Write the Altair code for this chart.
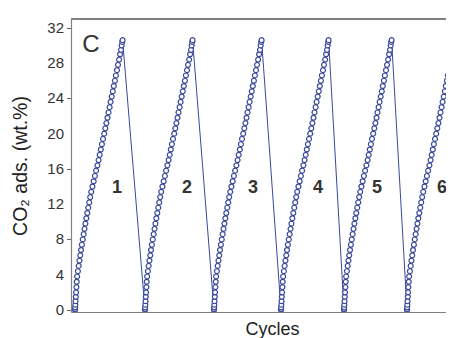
import altair as alt
import pandas as pd

# one adsorption run: time offset from cycle start (a.u.) and CO2 uptake (wt.%)
rise_dt = [0, 0.05, 0.16, 0.32, 0.54, 0.81, 1.08, 1.41, 1.73, 2.13, 2.9, 3.68, 4.45, 5.23,
           6.0, 6.88, 7.76, 8.65, 9.53, 10.41, 11.32, 12.29, 13.25, 14.22, 15.19, 16.2,
           17.44, 18.67, 19.9, 21.1, 22.4, 23.6, 24.7, 25.8, 26.9, 28.0, 29.2, 30.3, 31.4,
           32.5, 33.5, 34.6, 35.6, 36.7, 37.8, 38.8, 39.9, 40.9, 42.0, 43.0, 44.1, 45.1,
           46.0, 46.7, 47.2, 47.6]
rise_val = [0, 0.1, 0.3, 0.6, 1.0, 1.5, 2.0, 2.6, 3.2, 3.8, 4.4, 5.0, 5.6, 6.2, 6.8, 7.4,
            8.0, 8.6, 9.2, 9.8, 10.4, 11.0, 11.6, 12.2, 12.8, 13.4, 14.0, 14.6, 15.2, 15.8,
            16.4, 17.0, 17.6, 18.2, 18.8, 19.4, 20.0, 20.6, 21.2, 21.8, 22.4, 23.0, 23.6,
            24.2, 24.8, 25.4, 26.0, 26.6, 27.2, 27.8, 28.4, 29.0, 29.5, 30.0, 30.4, 30.6]
cycle_start = [4, 74, 143, 210, 273, 336]
cycle_names = ["1", "2", "3", "4", "5", "6"]
label_t = [46, 116, 182, 247, 306, 371]
label_val = [13.8, 13.8, 13.8, 13.8, 13.8, 13.8]
panel_letter = ["C"]
panel_t = [20]
panel_val = [30.1]
all_ticks = [0, 2, 4, 6, 8, 10, 12, 14, 16, 18, 20, 22, 24, 26, 28, 30, 32]
tick_labels = ["0", "4", "8", "12", "16", "20", "24", "28", "32"]

X_MIN, X_MAX = 0, 375
Y_MIN, Y_MAX = -0.23, 33.0

rows = []
k = 0
for c, s in enumerate(cycle_start):
    for dt, v in zip(rise_dt, rise_val):
        rows.append({"t": s + dt, "v": v, "cycle": cycle_names[c], "k": k})
        k += 1
df = pd.DataFrame(rows)
labels = pd.DataFrame({"t": label_t, "v": label_val, "txt": cycle_names})
panel = pd.DataFrame({"t": panel_t, "v": panel_val, "txt": panel_letter})
ylab = pd.DataFrame({"v": [float(s) for s in tick_labels], "txt": tick_labels})

BLUE = "#3a489c"
FONT = "Liberation Sans"

xs = alt.Scale(domain=[X_MIN, X_MAX], nice=False, zero=False)
ys = alt.Scale(domain=[Y_MIN, Y_MAX], nice=False, zero=False)

x_enc = alt.X("t:Q", scale=xs, axis=alt.Axis(
    title="Cycles", labels=False, ticks=False, grid=False,
    domainColor="#808080", domainWidth=1.2,
    titleFont=FONT, titleFontSize=18, titleFontWeight="normal", titleColor="#222",
    titleX=201, titleY=22, titleBaseline="alphabetic"))
y_enc = alt.Y("v:Q", scale=ys, axis=alt.Axis(
    title="CO₂ ads. (wt.%)", values=all_ticks, labels=False,
    tickSize={"condition": {"test": "datum.value % 4 === 0", "value": 4.5}, "value": 2.5},
    tickColor="#666", domainColor="#808080", domainWidth=1.2, grid=False,
    titleFont=FONT, titleFontSize=19.5, titleFontWeight="normal", titleColor="#222",
    titlePadding=36))

line = alt.Chart(df).mark_line(color=BLUE, strokeWidth=1, clip=True).encode(
    x=x_enc, y=y_enc, order="k:Q")
pts = alt.Chart(df).mark_point(shape="circle", filled=False, color=BLUE, fill="white",
                               fillOpacity=1, size=24, strokeWidth=1.2, clip=True).encode(
    x="t:Q", y="v:Q")
top = alt.Chart(df).mark_rule(color="#808080", strokeWidth=1.5).encode(y=alt.datum(Y_MAX))
nums = alt.Chart(labels).mark_text(font=FONT, fontSize=18, fontWeight="bold",
                                   color="#333", baseline="middle").encode(
    x="t:Q", y="v:Q", text="txt:N")
letter = alt.Chart(panel).mark_text(font=FONT, fontSize=24, color="#333",
                                    baseline="middle").encode(
    x="t:Q", y="v:Q", text="txt:N")
yticks = alt.Chart(ylab).mark_text(font=FONT, fontSize=15, color="#333", align="right",
                                   baseline="middle", dx=-7).encode(
    x=alt.datum(X_MIN), y="v:Q", text="txt:N")

chart = alt.layer(line, pts, top, nums, letter, yticks).properties(
    width=375, height=293,
    autosize=alt.AutoSizeParams(type="none"),
    padding={"left": 63, "top": 11, "right": 0, "bottom": 26},
).configure_view(stroke=None)

chart.save("out.html", embed_options={"renderer": "svg", "actions": False})
